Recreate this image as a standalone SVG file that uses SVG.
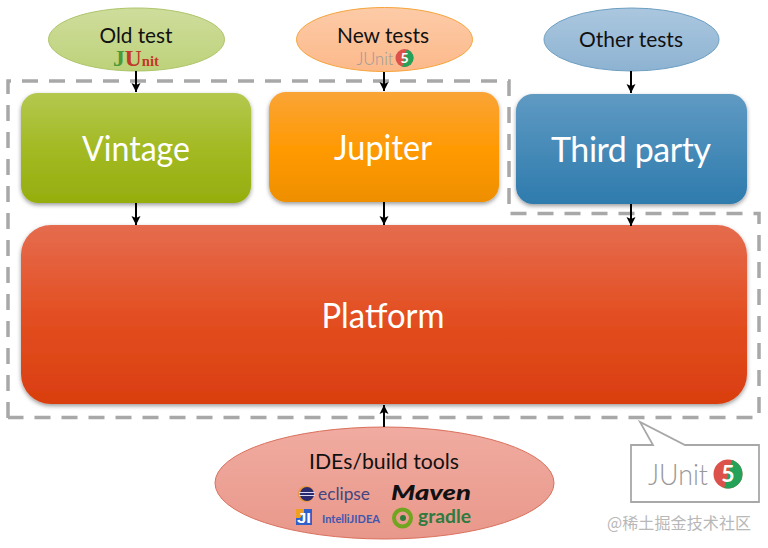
<svg xmlns="http://www.w3.org/2000/svg" width="768" height="548" viewBox="0 0 768 548">
<style>
text{font-family:"Lato","Open Sans","Noto Sans",sans-serif}
.big{fill:#fff;font-size:34px;text-anchor:middle}
.mid{fill:#111;font-size:21px;text-anchor:middle}
.conn{stroke:#000;stroke-width:2;fill:none;marker-end:url(#arr)}
.box{filter:url(#sh)}
.badgeT{fill:#fff;font-weight:700;text-anchor:middle}
.ju{fill:#999;font-weight:300;text-anchor:middle}
</style>
<defs>
<marker id="arr" markerUnits="userSpaceOnUse" markerWidth="11" markerHeight="10" refX="9" refY="5" orient="auto"><path d="M0 .5L9 5L0 9.500L2 5Z" fill="#000"/></marker>
<filter id="sh" x="-5%" y="-5%" width="110%" height="115%"><feDropShadow dx="0" dy="2" stdDeviation="2" flood-color="#000" flood-opacity=".4"/></filter>
<linearGradient id="gV" x1="0" y1="0" x2="0" y2="1"><stop offset="0" stop-color="#b4c84f"/><stop offset=".5" stop-color="#a3ba24"/><stop offset="1" stop-color="#96ae0e"/></linearGradient>
<linearGradient id="gJ" x1="0" y1="0" x2="0" y2="1"><stop offset="0" stop-color="#faa436"/><stop offset=".55" stop-color="#ff9900"/><stop offset="1" stop-color="#ee8f05"/></linearGradient>
<linearGradient id="gT" x1="0" y1="0" x2="0" y2="1"><stop offset="0" stop-color="#5f9ac3"/><stop offset="1" stop-color="#2e7bad"/></linearGradient>
<linearGradient id="gP" x1="0" y1="0" x2="0" y2="1"><stop offset="0" stop-color="#e56c4e"/><stop offset=".5" stop-color="#e34f22"/><stop offset="1" stop-color="#d93e0f"/></linearGradient>
<linearGradient id="gOld" x1="0" y1="0" x2="0" y2="1"><stop offset="0" stop-color="#cfdd9c"/><stop offset="1" stop-color="#bdd27a"/></linearGradient>
<linearGradient id="gNew" x1="0" y1="0" x2="0" y2="1"><stop offset="0" stop-color="#fdcba8"/><stop offset="1" stop-color="#fcb98a"/></linearGradient>
<linearGradient id="gOth" x1="0" y1="0" x2="0" y2="1"><stop offset="0" stop-color="#abc7df"/><stop offset="1" stop-color="#8db3d2"/></linearGradient>
<linearGradient id="gIde" x1="0" y1="0" x2="0" y2="1"><stop offset="0" stop-color="#f1aba0"/><stop offset="1" stop-color="#e8988a"/></linearGradient>
<clipPath id="cl5"><rect x="0" y="-20" width="20" height="40" transform="rotate(15)"/></clipPath>
</defs>

<g id="boundary"><path d="M8 418V81H509V213.500H759V417.500H8" fill="none" stroke="#a8a8a8" stroke-width="3.500" stroke-dasharray="16 11"/></g>

<g id="old-test">
<ellipse cx="136.500" cy="39.500" rx="88" ry="31.500" fill="url(#gOld)" stroke="#aec56a"/>
<text class="mid" x="136" y="43" textLength="73" lengthAdjust="spacingAndGlyphs">Old test</text>
<text x="113" y="66" style="font-family:'Liberation Serif',serif;font-weight:700" font-size="15" fill="#c0392b" textLength="46" lengthAdjust="spacingAndGlyphs"><tspan fill="#4a9a3a" font-size="24">J</tspan><tspan font-size="24">U</tspan>nit</text>
</g>
<g id="new-tests">
<ellipse cx="384.500" cy="39.500" rx="88" ry="32" fill="url(#gNew)" stroke="#f6a53c"/>
<text class="mid" x="383" y="43" textLength="92" lengthAdjust="spacingAndGlyphs">New tests</text>
<text class="ju" x="375" y="65" font-size="17" textLength="37" lengthAdjust="spacingAndGlyphs">JUnit</text>
<g transform="translate(404.500 58)"><circle r="9" fill="#dc524a"/><circle r="9" fill="#25a25a" clip-path="url(#cl5)"/><text class="badgeT" y="5" font-size="14">5</text></g>
</g>
<g id="other-tests">
<ellipse cx="631.500" cy="39.500" rx="87.500" ry="31.500" fill="url(#gOth)" stroke="#6d9fc2"/>
<text class="mid" x="631" y="47" textLength="104" lengthAdjust="spacingAndGlyphs">Other tests</text>
</g>

<g id="vintage"><rect class="box" x="21" y="93" width="230" height="110" rx="17" fill="url(#gV)"/>
<text class="big" x="136" y="160.500" textLength="108" lengthAdjust="spacingAndGlyphs">Vintage</text></g>
<g id="jupiter"><rect class="box" x="269" y="92" width="230" height="110" rx="17" fill="url(#gJ)"/>
<text class="big" x="383" y="160" textLength="98" lengthAdjust="spacingAndGlyphs">Jupiter</text></g>
<g id="third-party"><rect class="box" x="516" y="94" width="231" height="110" rx="17" fill="url(#gT)"/>
<text class="big" x="631" y="161.500" textLength="160" lengthAdjust="spacing">Third party</text></g>
<g id="platform"><rect class="box" x="21" y="225" width="726" height="179" rx="30" fill="url(#gP)"/>
<text class="big" x="383" y="328" textLength="123" lengthAdjust="spacingAndGlyphs">Platform</text></g>

<g id="ide-tools">
<ellipse cx="384.500" cy="483" rx="169.500" ry="56" fill="url(#gIde)" stroke="#d9705c"/>
<text class="mid" x="384" y="469" textLength="150" lengthAdjust="spacingAndGlyphs">IDEs/build tools</text>
<circle cx="306" cy="494" r="8" fill="#e8973a"/><circle cx="307" cy="494" r="7" fill="#2c2a6e"/>
<path d="M299 492.500H315M299 495.500H315" stroke="#d8d8ee" stroke-width="1"/>
<text x="318" y="500" font-size="17" fill="#45457f" textLength="52" lengthAdjust="spacingAndGlyphs">eclipse</text>
<text x="391" y="500" font-size="20" font-weight="900" font-style="italic" fill="#111" textLength="80" lengthAdjust="spacingAndGlyphs">Maven</text>
<rect x="296" y="509" width="16" height="16" fill="#2f5fc9"/><path d="M296 509h8v4l-4 5h-4z" fill="#f0a020"/>
<text x="297" y="523" font-size="14" font-weight="900" fill="#fff" textLength="14" lengthAdjust="spacingAndGlyphs" style="font-family:'Liberation Sans',sans-serif">JI</text>
<text x="322" y="523" font-size="12" font-weight="700" fill="#3f56ae" textLength="58" lengthAdjust="spacingAndGlyphs">IntelliJIDEA</text>
<circle cx="402.500" cy="518" r="8.500" fill="none" stroke="#6fa51f" stroke-width="4"/><circle cx="403" cy="518" r="3" fill="#2f7a3a"/>
<text x="418" y="522.500" font-size="18" font-weight="700" fill="#2f7a3f" textLength="53" lengthAdjust="spacingAndGlyphs">gradle</text>
</g>

<g id="junit5-callout">
<path d="M631 445H653L640 422L685 445H759V502H631Z" fill="#fff" stroke="#a8a8a8" stroke-width="1.800"/>
<text class="ju" x="678" y="485" font-size="30" textLength="60" lengthAdjust="spacingAndGlyphs">JUnit</text>
<g transform="translate(728 474)"><circle r="14.500" fill="#dc524a"/><circle r="14.500" fill="#25a25a" clip-path="url(#cl5)"/><text class="badgeT" y="8" font-size="23">5</text></g>
</g>

<g id="connectors">
<path class="conn" d="M136 71V92"/>
<path class="conn" d="M384 72V91"/>
<path class="conn" d="M631 71V93"/>
<path class="conn" d="M136 203V225"/>
<path class="conn" d="M384 202V225"/>
<path class="conn" d="M631 204V226"/>
<path class="conn" d="M384 427V405"/>
</g>

<g id="watermark"><text x="607" y="529" font-size="16" fill="#b8b8b8" textLength="144" style="font-family:'Noto Sans CJK SC',sans-serif">@稀土掘金技术社区</text></g>
</svg>
